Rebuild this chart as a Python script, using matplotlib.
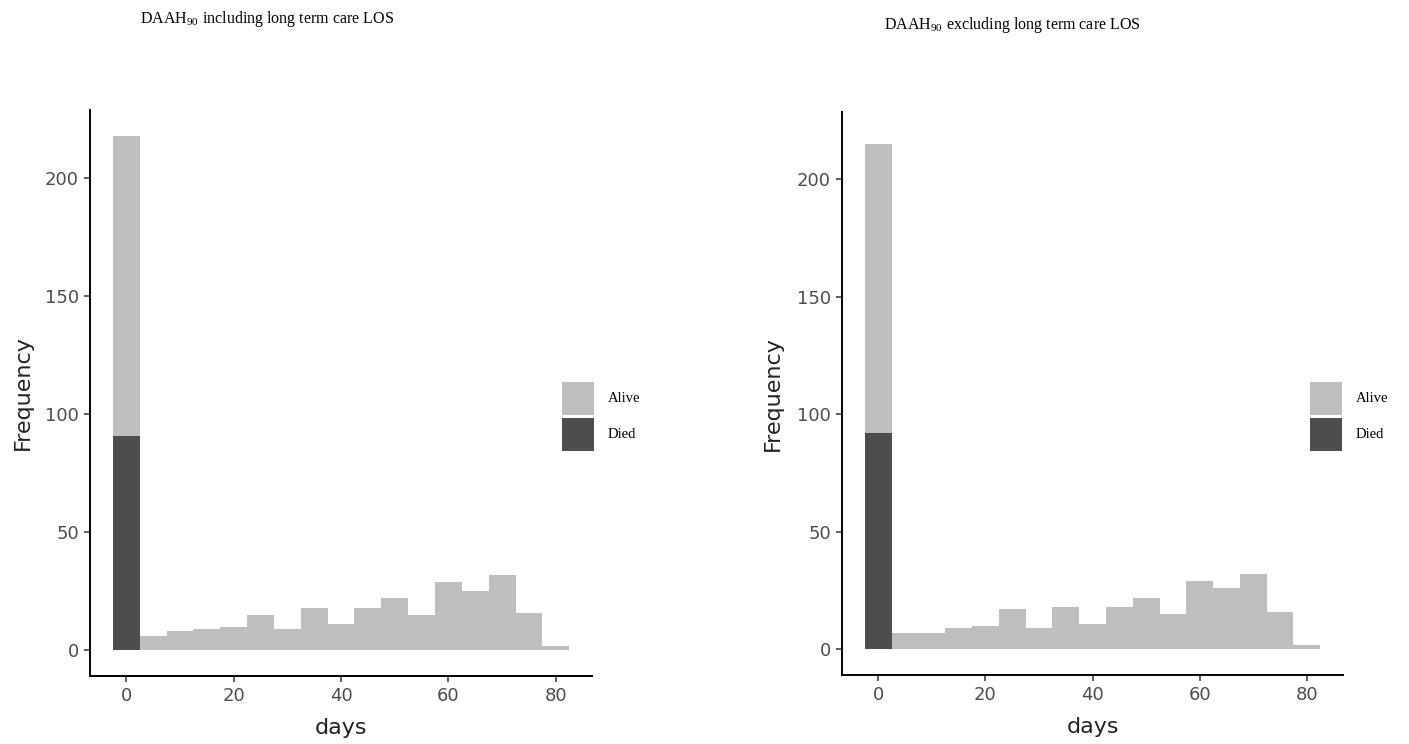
import matplotlib
matplotlib.use("Agg")
import matplotlib.pyplot as plt
from matplotlib.patches import Rectangle
import numpy as np

# bin centres (5-day bins) and counts per outcome
bin_centres = [0, 5, 10, 15, 20, 25, 30, 35, 40, 45, 50, 55, 60, 65, 70, 75, 80]
bin_width = 5

incl_died = [91, 0, 0, 0, 0, 0, 0, 0, 0, 0, 0, 0, 0, 0, 0, 0, 0]
incl_alive = [127, 6, 8, 9, 10, 15, 9, 18, 11, 18, 22, 15, 29, 25, 32, 16, 2]

excl_died = [92, 0, 0, 0, 0, 0, 0, 0, 0, 0, 0, 0, 0, 0, 0, 0, 0]
excl_alive = [123, 7, 7, 9, 10, 17, 9, 18, 11, 18, 22, 15, 29, 26, 32, 16, 2]

titles = [r"DAAH$_{\mathrm{90}}$ including long term care LOS",
          r"DAAH$_{\mathrm{90}}$ excluding long term care LOS"]
outcomes = ["Alive", "Died"]
col_alive = "#bebebe"
col_died = "#4d4d4d"

plt.rcParams["mathtext.fontset"] = "custom"
plt.rcParams["mathtext.rm"] = "Liberation Serif"
plt.rcParams["font.family"] = "DejaVu Sans"

W, H = 1409, 744
fig = plt.figure(figsize=(W / 100, H / 100), dpi=100)

# axes rect, died, alive, title (x, baseline y), legend left edge px, ylabel x
panels = [
    ([0.0639, 0.0914, 0.3563, 0.7606], incl_died, incl_alive, (0.1899, 0.969), 562, -0.1135),
    ([0.5976, 0.0927, 0.3556, 0.7574], excl_died, excl_alive, (0.7186, 0.961), 1310, -0.118),
]

for i, (rect, died, alive, tpos, leg_px, ylab_x) in enumerate(panels):
    ax = fig.add_axes(rect)
    x = np.array(bin_centres)
    ax.bar(x, died, width=bin_width, color=col_died, linewidth=0)
    ax.bar(x, alive, width=bin_width, bottom=died, color=col_alive, linewidth=0)

    ax.set_xlim(-6.75, 86.75)
    ax.set_ylim(-10.9, 228.9)
    ax.set_xticks([0, 20, 40, 60, 80])
    ax.set_yticks([0, 50, 100, 150, 200])
    for side in ("top", "right"):
        ax.spines[side].set_visible(False)
    for side in ("left", "bottom"):
        ax.spines[side].set_linewidth(1.4)
        ax.spines[side].set_color("black")
    ax.tick_params(axis="both", length=4, width=1.1, color="#333333",
                   labelsize=13, labelcolor="#4d4d4d", pad=4)
    ax.set_xlabel("days", fontsize=16, color="#222222", labelpad=9)
    ax.set_ylabel("Frequency", fontsize=16, color="#222222")
    ax.yaxis.set_label_coords(ylab_x, 0.5)

    fig.text(tpos[0], tpos[1], titles[i], family="Liberation Serif",
             fontsize=11.5, ha="center", va="baseline")

    # legend keys: Alive above Died
    for j, (lab, col) in enumerate(zip(outcomes, [col_alive, col_died])):
        top = 382 + j * 36.5
        fig.patches.append(Rectangle((leg_px / W, 1 - (top + 33) / H), 32 / W, 33 / H,
                                     transform=fig.transFigure, facecolor=col,
                                     edgecolor="none"))
        fig.text((leg_px + 46) / W, 1 - (top + 16.5) / H, lab,
                 family="Liberation Serif", fontsize=10.5, ha="left", va="center")

fig.savefig("out.png", dpi=100)
